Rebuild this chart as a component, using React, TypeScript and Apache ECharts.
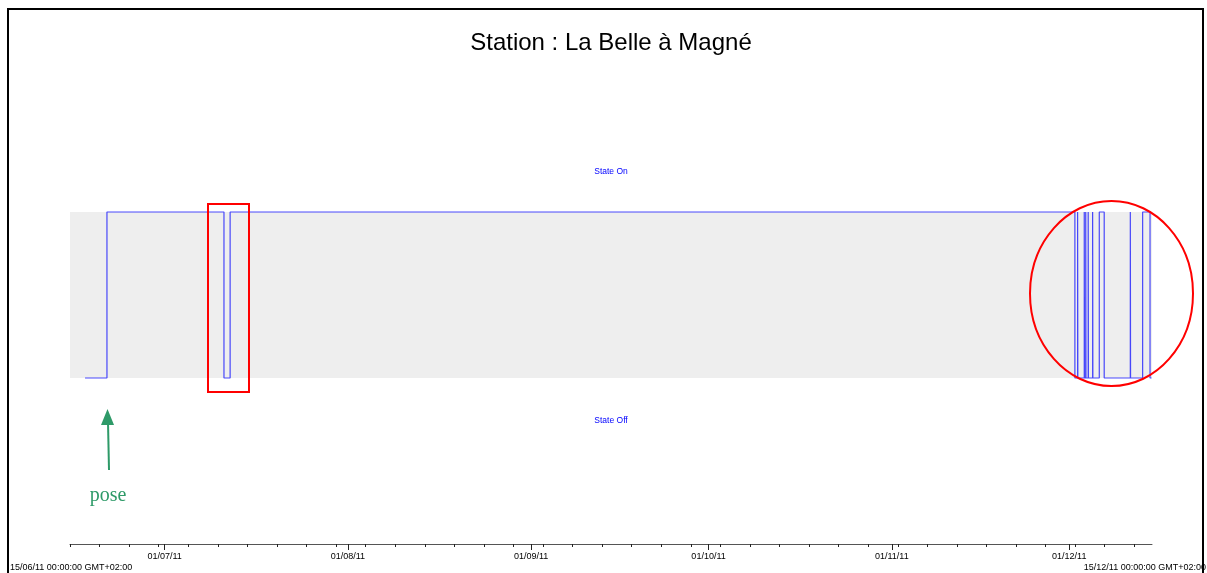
import React, { useEffect, useRef } from "react";
import * as echarts from "echarts";

// ---- data ----
const titleText = "Station : La Belle à Magné";
const axisStart = "2011-06-15 00:00";
const axisEnd = "2011-12-15 00:00";
const startLabel = "15/06/11 00:00:00 GMT+02:00";
const endLabel = "15/12/11 00:00:00 GMT+02:00";
const monthTicks = ["2011-07-01 00:00", "2011-08-01 00:00", "2011-09-01 00:00", "2011-10-01 00:00", "2011-11-01 00:00", "2011-12-01 00:00"];
const stateNames = ["State Off", "State On"];
const stateTimes = [
  "2011-06-17 13:00", "2011-06-21 06:00",
  "2011-07-11 01:00", "2011-07-12 02:00",
  "2011-12-01 23:00",
  "2011-12-02 10:00", "2011-12-02 11:00",
  "2011-12-03 13:00", "2011-12-03 14:00",
  "2011-12-03 19:00", "2011-12-03 20:00",
  "2011-12-04 05:00", "2011-12-04 06:00",
  "2011-12-04 23:00", "2011-12-05 00:00",
  "2011-12-06 02:00", "2011-12-06 22:00",
  "2011-12-11 08:00", "2011-12-11 09:00",
  "2011-12-13 10:00", "2011-12-14 16:00",
  "2011-12-14 22:00",
];
const stateValues = [
  0, 1,
  0, 1,
  0,
  1, 0,
  1, 0,
  1, 0,
  1, 0,
  1, 0,
  1, 0,
  1, 0,
  1, 0,
  0,
];
const annotationText = "pose";

function utc(s: string): number {
  const [d, t] = s.split(" ");
  const [y, m, day] = d.split("-").map(Number);
  const [hh, mm] = (t || "00:00").split(":").map(Number);
  return Date.UTC(y, m - 1, day, hh, mm);
}
function fmt(v: number): string {
  const d = new Date(v);
  const p = (n: number) => String(n).padStart(2, "0");
  return `${p(d.getUTCDate())}/${p(d.getUTCMonth() + 1)}/${p(d.getUTCFullYear() % 100)}`;
}

export default function App() {
  const ref = useRef<HTMLDivElement>(null);
  useEffect(() => {
    if (!ref.current) return;
    const chart = echarts.init(ref.current, undefined, { renderer: "svg" });
    const minT = utc(axisStart);
    const maxT = utc(axisEnd);
    const DAY = 86400000;
    const minorTicks: number[] = [];
    for (let t = minT; t <= maxT; t += 5 * DAY) minorTicks.push(t);
    const majorTicks = monthTicks.map(utc);
    const midT = (minT + maxT) / 2;
    const data = stateTimes.map((s, i) => [utc(s), stateValues[i]]);
    const font = "Liberation Sans, Arial, sans-serif";

    chart.setOption({
      animation: false,
      title: {
        text: titleText,
        left: 606,
        top: 24,
        textAlign: "center",
        textStyle: { fontFamily: font, fontSize: 24, fontWeight: "normal", color: "#000" },
      },
      grid: { left: 70, right: 55, top: 46, bottom: 29 },
      xAxis: [
        {
          type: "value",
          min: minT,
          max: maxT,
          position: "bottom",
          axisLine: { show: true, onZero: false, lineStyle: { color: "#555", width: 1 } },
          axisTick: { show: true, length: 3, customValues: minorTicks, lineStyle: { color: "#222" } },
          axisLabel: { show: false },
          splitLine: { show: false },
        },
        {
          type: "value",
          min: minT,
          max: maxT,
          position: "bottom",
          axisLine: { show: false, onZero: false },
          axisTick: { show: true, length: 6, customValues: majorTicks, lineStyle: { color: "#222" } },
          axisLabel: {
            show: true,
            customValues: majorTicks,
            formatter: (v: number) => fmt(v),
            fontFamily: font,
            fontSize: 9,
            color: "#000",
            margin: 7,
          },
          splitLine: { show: false },
        },
      ],
      yAxis: { type: "value", min: -1, max: 2, show: false, splitLine: { show: false } },
      series: [
        {
          type: "line",
          step: "end",
          xAxisIndex: 0,
          symbol: "none",
          data,
          lineStyle: { color: "#0000ff", opacity: 0.7, width: 1.2 },
          markArea: {
            silent: true,
            itemStyle: { color: "#eeeeee" },
            data: [[{ yAxis: 0 }, { yAxis: 1 }]],
          },
          markPoint: {
            silent: true,
            symbol: "circle",
            symbolSize: 0,
            label: { show: true, position: "inside", color: "#0000ff", fontSize: 8.5, fontFamily: font },
            data: [
              { coord: [midT, 1.247], value: stateNames[1], label: { formatter: stateNames[1] } },
              { coord: [midT, -0.253], value: stateNames[0], label: { formatter: stateNames[0] } },
            ],
          },
        },
      ],
      graphic: [
        { type: "polyline", z: 100, shape: { points: [[8, 573], [8, 9], [1203, 9], [1203, 573]] }, style: { stroke: "#000", lineWidth: 2, fill: null } },
        { type: "text", z: 100, x: 10, y: 567, style: { text: startLabel, font: `9px ${font}`, fill: "#000", textVerticalAlign: "middle" } },
        { type: "text", z: 100, x: 1206, y: 567, style: { text: endLabel, font: `9px ${font}`, fill: "#000", textAlign: "right", textVerticalAlign: "middle" } },
        { type: "rect", z: 100, shape: { x: 208, y: 204, width: 41, height: 188 }, style: { stroke: "#ff0000", lineWidth: 2, fill: null } },
        { type: "ellipse", z: 100, shape: { cx: 1111.5, cy: 293.5, rx: 81.5, ry: 92.5 }, style: { stroke: "#ff0000", lineWidth: 2, fill: null } },
        { type: "line", z: 100, shape: { x1: 109, y1: 470, x2: 108, y2: 422 }, style: { stroke: "#2e9a68", lineWidth: 2 } },
        { type: "polygon", z: 100, shape: { points: [[107.5, 409], [101, 425], [114, 425]] }, style: { fill: "#2e9a68" } },
        { type: "text", z: 100, x: 108, y: 494, style: { text: annotationText, font: "20px Liberation Serif, DejaVu Serif, serif", fill: "#2e9a68", textAlign: "center", textVerticalAlign: "middle" } },
      ],
    });
    return () => chart.dispose();
  }, []);
  return <div ref={ref} style={{ position: "fixed", left: 0, top: 0, width: 1207, height: 573 }} />;
}
